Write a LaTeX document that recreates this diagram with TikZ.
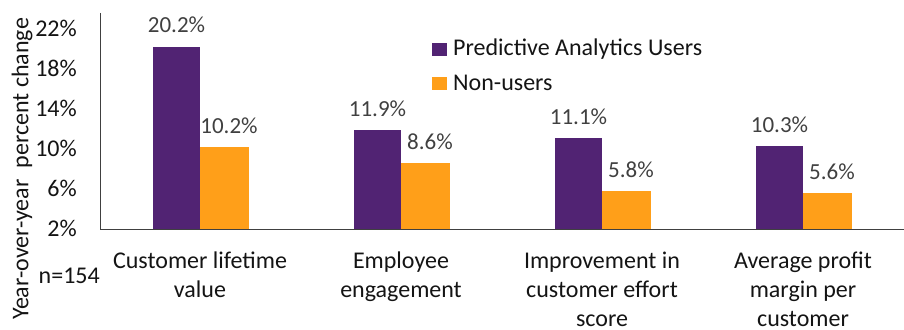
\documentclass[tikz,border=0pt]{standalone}
\usepackage{fontspec}
\setmainfont{Carlito}
\definecolor{pur}{RGB}{81,35,115}
\definecolor{org}{RGB}{255,159,25}
\definecolor{axisgray}{RGB}{64,64,64}
\definecolor{valgray}{RGB}{64,64,64}
\definecolor{txt}{RGB}{20,20,20}
\begin{document}
\begin{tikzpicture}[x=1pt,y=-1pt,
  axisline/.style={draw=axisgray,line width=1pt},
  tick/.style={font=\fontsize{24}{28}\selectfont,text=txt,inner sep=0pt,anchor=base east},
  val/.style={font=\fontsize{23}{27}\selectfont,text=valgray,inner sep=0pt,anchor=base},
  cat/.style={font=\fontsize{24}{29}\selectfont,text=txt,inner sep=0pt,anchor=base,align=center},
  leg/.style={font=\fontsize{24}{28}\selectfont,text=txt,inner sep=0pt,anchor=base west},
  pbar/.style={fill=pur},
  obar/.style={fill=org}]
\useasboundingbox (0,0) rectangle (904,329);
% axes
\coordinate (ytop) at (100,13);
\coordinate (origin) at (100,229);
\coordinate (xend) at (904,229);
\draw[axisline] (ytop) -- (origin) -- (xend);
% ticks
\foreach \v/\y in {22/29,18/69,14/109,10/149,6/189,2/229}
  \node[tick] (t\v) at (77,\y+7.5) {\v\%};
% bars: value v -> y = 229-(v-2)*10
\foreach \i/\x/\p/\o in {1/153/20.2/10.2, 2/354/11.9/8.6, 3/555/11.1/5.8, 4/756/10.3/5.6}{
  \pgfmathsetmacro{\pt}{229-(\p-2)*10}
  \pgfmathsetmacro{\ot}{229-(\o-2)*10}
  \fill[pbar] (\x,229) rectangle (\x+47,\pt);
  \fill[obar] (\x+47,229) rectangle (\x+96,\ot);
  \node[val] (vp\i) at (\x+23.5,\pt-14) {\p\%};
  \node[val] (vo\i) at (\x+76,\ot-14) {\o\%};
}
% category labels (base anchor = last line baseline)
\node[cat] (c1) at (200,297) {Customer lifetime\\value};
\node[cat] (c2) at (401,297) {Employee\\engagement};
\node[cat] (c3) at (602,326) {Improvement in\\customer effort\\score};
\node[cat] (c4) at (803,326) {Average profit\\margin per\\customer};
\node[tick] (n) at (100,283) {n=154};
% y title
\node[font=\fontsize{24}{28}\selectfont,text=txt,rotate=90,inner sep=0pt] (ytitle) at (22,169) {Year-over-year\ \ percent change};
% legend
\fill[pbar] (432,43) rectangle (447,56);
\node[leg] (l1) at (453,56) {Predictive Analytics Users};
\fill[obar] (432,77) rectangle (447,90);
\node[leg] (l2) at (453,90) {Non-users};
\end{tikzpicture}
\end{document}
